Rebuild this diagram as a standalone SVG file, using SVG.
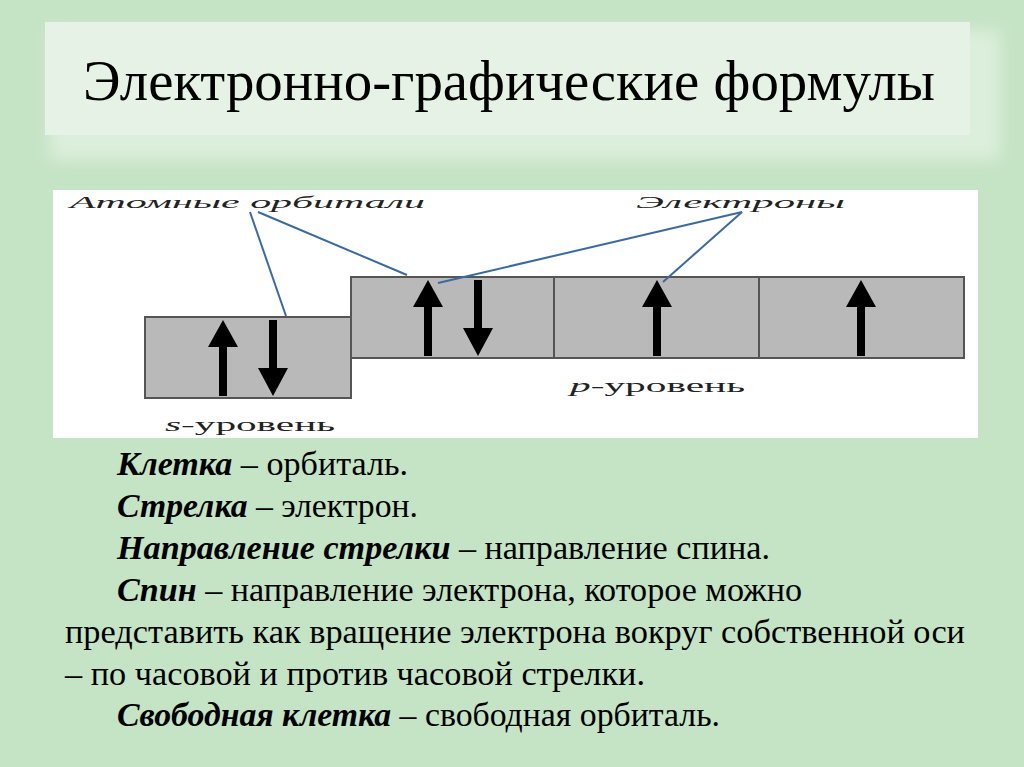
<svg xmlns="http://www.w3.org/2000/svg" width="1024" height="767" viewBox="0 0 1024 767">
<defs>
<style>
.ttl{font-family:"Liberation Serif","Times New Roman",serif;font-size:56px;fill:#000}
.lbl{font-family:"Liberation Serif","Times New Roman",serif;font-style:italic;font-size:16px;fill:#222}
.lvl{font-family:"Liberation Serif","Times New Roman",serif;font-size:18px;fill:#222}
.body{font-family:"Liberation Serif","Times New Roman",serif;font-size:33px;fill:#000}
.b{font-weight:bold;font-style:italic}
.box{fill:#b9b9b9;stroke:#555;stroke-width:2}
.ln{stroke:#3a6aa0;stroke-width:2;fill:none}
.ar{fill:#000}
</style>
<filter id="glow" x="-10%" y="-30%" width="120%" height="160%"><feGaussianBlur stdDeviation="8"/></filter>
</defs>
<rect width="1024" height="767" fill="#c5e3c5"/>
<g id="title">
<rect x="50" y="30" width="950" height="130" fill="#dcefdc" filter="url(#glow)"/>
<rect x="45" y="22" width="925" height="113" fill="#e5f2e5"/>
<text class="ttl" x="83" y="100" textLength="852" lengthAdjust="spacingAndGlyphs">Электронно-графические формулы</text>
</g>
<rect x="53" y="190" width="925" height="248" fill="#fff"/>
<g id="s-orbital">
<rect class="box" x="145" y="317" width="206" height="81"/>
<path class="ar" d="M223 320 L238 347 L227 347 L227 396 L219 396 L219 347 L208 347 Z"/>
<path class="ar" d="M273 396 L288 368 L277 368 L277 320 L269 320 L269 368 L258 368 Z"/>
</g>
<g id="p-orbital-1">
<rect class="box" x="351" y="277" width="203" height="81"/>
<path class="ar" d="M428 280 L443 307 L432 307 L432 356 L424 356 L424 307 L413 307 Z"/>
<path class="ar" d="M478 356 L493 328 L482 328 L482 280 L474 280 L474 328 L463 328 Z"/>
</g>
<g id="p-orbital-2">
<rect class="box" x="554" y="277" width="205" height="81"/>
<path class="ar" d="M657 280 L672 307 L661 307 L661 356 L653 356 L653 307 L642 307 Z"/>
</g>
<g id="p-orbital-3">
<rect class="box" x="759" y="277" width="205" height="81"/>
<path class="ar" d="M861 280 L876 307 L865 307 L865 356 L857 356 L857 307 L846 307 Z"/>
</g>
<g id="labels">
<text class="lbl" x="70" y="208" textLength="355" lengthAdjust="spacingAndGlyphs">Атомные орбитали</text>
<text class="lbl" x="636" y="208" textLength="209" lengthAdjust="spacingAndGlyphs">Электроны</text>
<text class="lvl" x="165" y="431" textLength="170" lengthAdjust="spacingAndGlyphs"><tspan font-style="italic">s</tspan>-уровень</text>
<text class="lvl" x="570" y="392" textLength="175" lengthAdjust="spacingAndGlyphs"><tspan font-style="italic">p</tspan>-уровень</text>
</g>
<g id="connectors">
<line class="ln" x1="250" y1="212" x2="286" y2="316"/>
<line class="ln" x1="258" y1="212" x2="407" y2="275"/>
<line class="ln" x1="742" y1="212" x2="438" y2="283"/>
<line class="ln" x1="742" y1="212" x2="663" y2="282"/>
</g>
<g id="text">
<text class="body" x="117" y="475" textLength="291" lengthAdjust="spacingAndGlyphs"><tspan class="b">Клетка</tspan> – орбиталь.</text>
<text class="body" x="117" y="517" textLength="301" lengthAdjust="spacingAndGlyphs"><tspan class="b">Стрелка</tspan> – электрон.</text>
<text class="body" x="117" y="559" textLength="653" lengthAdjust="spacingAndGlyphs"><tspan class="b">Направление стрелки</tspan> – направление спина.</text>
<text class="body" x="117" y="601" textLength="685" lengthAdjust="spacingAndGlyphs"><tspan class="b">Спин</tspan> – направление электрона, которое можно</text>
<text class="body" x="65" y="643" textLength="900" lengthAdjust="spacingAndGlyphs">представить как вращение электрона вокруг собственной оси</text>
<text class="body" x="65" y="685" textLength="580" lengthAdjust="spacingAndGlyphs">– по часовой и против часовой стрелки.</text>
<text class="body" x="117" y="726" textLength="603" lengthAdjust="spacingAndGlyphs"><tspan class="b">Свободная клетка</tspan> – свободная орбиталь.</text>
</g>
</svg>
